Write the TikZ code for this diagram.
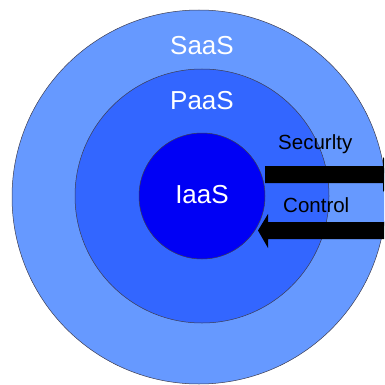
\documentclass[tikz,border=0pt]{standalone}
\usepackage{fontspec}
\setmainfont{Liberation Sans}
\definecolor{saasblue}{RGB}{102,153,255}
\definecolor{paasblue}{RGB}{51,102,255}
\definecolor{iaasblue}{RGB}{0,0,245}
\definecolor{ringline}{RGB}{60,60,80}
\begin{document}
\begin{tikzpicture}[x=1pt,y=-1pt,
  ring/.style={circle,draw=ringline,line width=0.5pt,inner sep=0pt},
  layerlabel/.style={text=white,font=\fontsize{26}{26}\selectfont,anchor=base,inner sep=0pt},
  sidelabel/.style={text=black,font=\fontsize{20.5}{20.5}\selectfont,anchor=base west,inner sep=0pt},
  blockarrow/.style={fill=black}]
  \useasboundingbox (0,0) rectangle (384,385);
  \clip (0,0) rectangle (384,385);
  % nested service layers
  \node[ring,fill=saasblue,minimum size=374pt] (saas) at (199,197) {};
  \node[ring,fill=paasblue,minimum size=254pt] (paas) at (202,196) {};
  \node[ring,fill=iaasblue,minimum size=126pt] (iaas) at (202,196) {};
  % layer names
  \node[layerlabel] (saaslbl) at (202,55) {SaaS};
  \node[layerlabel] (paaslbl) at (202,110) {PaaS};
  \node[layerlabel] (iaaslbl) at (202,203) {IaaS};
  % side labels
  \node[sidelabel] (sec) at (278,149) {Securlty};
  \node[sidelabel] (ctl) at (283,212) {Control};
  % outward arrow (security)
  \fill[blockarrow] (265,166) -- (383,166) -- (383,157) -- (395,174.5)
     -- (383,192) -- (383,183) -- (265,183) -- cycle;
  % inward arrow (control)
  \fill[blockarrow] (390,222) -- (268,222) -- (268,214) -- (258,230.5)
     -- (268,248) -- (268,239) -- (390,239) -- cycle;
\end{tikzpicture}
\end{document}
